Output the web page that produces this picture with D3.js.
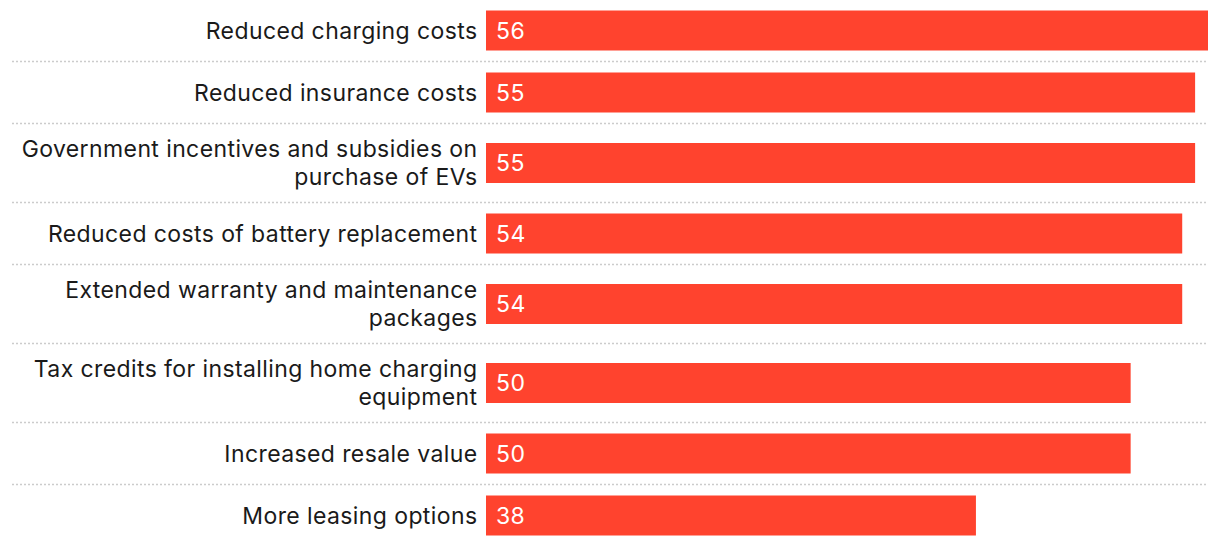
<!DOCTYPE html>
<html>
<head>
<meta charset="utf-8">
<script src="https://cdnjs.cloudflare.com/ajax/libs/d3/7.8.5/d3.min.js"></script>
<style>
body { margin: 0; background: #fff; }
text { font-family: Inter, "Noto Sans", sans-serif; font-size: 23px; letter-spacing: 0.4px; }
</style>
</head>
<body>
<div id="chart"></div>
<script>
// categories, line breaks as in the source
var categories = [
  "Reduced charging costs",
  "Reduced insurance costs",
  "Government incentives and subsidies on\npurchase of EVs",
  "Reduced costs of battery replacement",
  "Extended warranty and maintenance\npackages",
  "Tax credits for installing home charging\nequipment",
  "Increased resale value",
  "More leasing options"
];
var values = [56, 55, 55, 54, 54, 50, 50, 38];

var W = 1220, H = 548;
var svg = d3.select("#chart").append("svg").attr("width", W).attr("height", H);

var x = d3.scaleLinear().domain([0, 56]).range([486, 1208]);

// row heights depend on number of label lines
var rows = [];
var rowTop = 0;
categories.forEach(function (c, i) {
  var lines = c.split("\n");
  var h = lines.length > 1 ? 79 : 62;
  rows.push({ name: c, lines: lines, value: values[i], y0: rowTop, h: h });
  rowTop += h;
});

var g = svg.selectAll("g.row").data(rows).enter().append("g").attr("class", "row");

g.append("rect")
  .attr("x", x(0))
  .attr("y", function (d) { return d.y0 + d.h / 2 - 20 - 0.5; })
  .attr("width", function (d) { return x(d.value) - x(0); })
  .attr("height", 40)
  .attr("fill", "#ff432e");

g.append("text")
  .attr("x", x(0) + 10)
  .attr("y", function (d) { return d.y0 + d.h / 2 - 0.5; })
  .attr("dy", "0.36em")
  .attr("fill", "#fff")
  .text(function (d) { return d.value; });

g.each(function (d) {
  var t = d3.select(this).append("text")
    .attr("text-anchor", "end")
    .attr("fill", "#1a1a1a");
  var n = d.lines.length;
  d.lines.forEach(function (l, j) {
    t.append("tspan")
      .attr("x", 477.5)
      .attr("y", d.y0 + d.h / 2 - 0.5 + (j - (n - 1) / 2) * 28)
      .attr("dy", "0.36em")
      .text(l);
  });
});

// dotted separators
g.filter(function (d, i) { return i < rows.length - 1; })
  .append("line")
  .attr("x1", 12).attr("x2", 1208)
  .attr("y1", function (d) { return d.y0 + d.h - 0.5; })
  .attr("y2", function (d) { return d.y0 + d.h - 0.5; })
  .attr("stroke", "#cccccc")
  .attr("stroke-width", 1.5)
  .attr("stroke-dasharray", "2,2");
</script>
</body>
</html>
